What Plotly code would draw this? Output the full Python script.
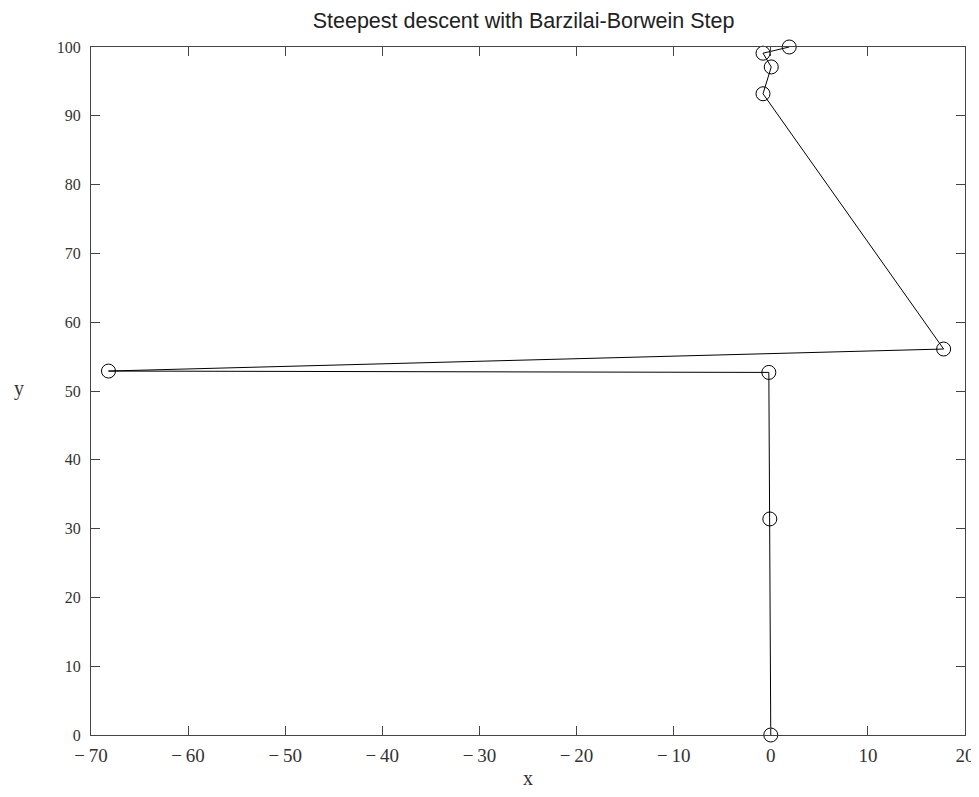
import plotly.graph_objects as go

x_vals = [0.0, -0.1, -0.2, -68.2, 17.8, -0.8, 0.05, -0.8, 1.9]
y_vals = [0.0, 31.4, 52.7, 52.9, 56.1, 93.2, 97.1, 99.1, 100.0]

x_ticks = [-70, -60, -50, -40, -30, -20, -10, 0, 10, 20]
x_ticktext = ["\u2212\u200970", "\u2212\u200960", "\u2212\u200950", "\u2212\u200940", "\u2212\u200930",
              "\u2212\u200920", "\u2212\u200910", "0", "10", "20"]
y_ticks = [0, 10, 20, 30, 40, 50, 60, 70, 80, 90, 100]

serif = "Liberation Serif, Times New Roman, serif"

fig = go.Figure()
fig.add_trace(go.Scatter(
    x=x_vals, y=y_vals, mode="lines+markers",
    line=dict(color="black", width=1),
    marker=dict(symbol="circle-open", size=14, color="black", line=dict(width=1)),
    cliponaxis=False, showlegend=False,
))

# page body has an 8px default margin, so the figure is sized/offset to compensate
fig.update_layout(
    width=971, height=781,
    margin=dict(l=83, r=14, t=39, b=54, autoexpand=False),
    paper_bgcolor="white", plot_bgcolor="white",
    title=dict(text="Steepest descent with Barzilai-Borwein Step", x=0.531, xanchor="center",
               xref="container", y=0.984, yanchor="middle",
               font=dict(family="Liberation Sans, Arial", size=21.5, color="#222")),
    font=dict(family=serif, size=16, color="#333"),
)
fig.update_xaxes(
    range=[-70, 20], tickvals=x_ticks, ticktext=x_ticktext, automargin=False,
    ticks="inside", ticklen=9, tickcolor="#444", mirror="ticks",
    showline=True, linecolor="#444", linewidth=1, showgrid=False, zeroline=False,
    tickfont=dict(family=serif, size=19), ticklabelstandoff=3,
)
fig.update_yaxes(
    range=[0, 100], tickvals=y_ticks, automargin=False,
    ticks="inside", ticklen=9, tickcolor="#444", mirror="ticks",
    showline=True, linecolor="#444", linewidth=1, showgrid=False, zeroline=False,
    tickfont=dict(family=serif, size=16), ticklabelstandoff=6,
)
fig.add_annotation(text="y", x=-0.0824, y=0.504, xref="paper", yref="paper", showarrow=False,
                   xanchor="center", yanchor="middle",
                   font=dict(family=serif, size=20, color="#333"))
fig.add_annotation(text="x", x=0.5, y=-0.0625, xref="paper", yref="paper", showarrow=False,
                   xanchor="center", yanchor="middle",
                   font=dict(family=serif, size=20, color="#333"))

fig.write_html("out.html")
